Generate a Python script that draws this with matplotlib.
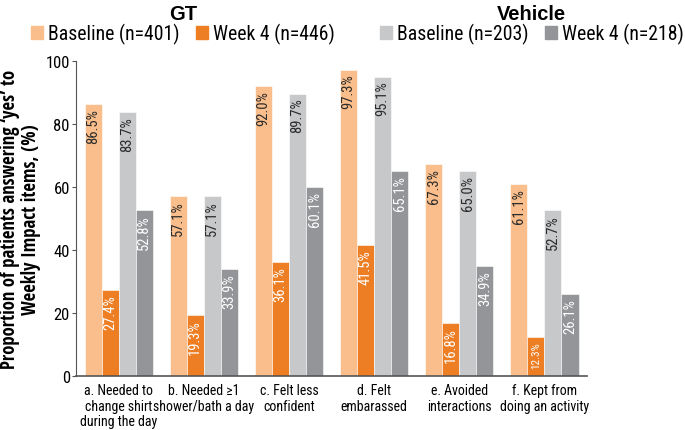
import matplotlib
matplotlib.use("Agg")
import matplotlib.pyplot as plt
import numpy as np
from matplotlib.patches import Patch

COND = ['Roboto Condensed', 'Liberation Sans']

categories = ["a. Needed to\nchange shirt\nduring the day", "b. Needed ≥1\nshower/bath a day",
              "c. Felt less\nconfident", "d. Felt\nembarassed", "e. Avoided\ninteractions",
              "f. Kept from\ndoing an activity"]
gt_baseline = [86.5, 57.1, 92.0, 97.3, 67.3, 61.1]
gt_week4 = [27.4, 19.3, 36.1, 41.5, 16.8, 12.3]
veh_baseline = [83.7, 57.1, 89.7, 95.1, 65.0, 52.7]
veh_week4 = [52.8, 33.9, 60.1, 65.1, 34.9, 26.1]
series_names = ["Baseline (n=401)", "Week 4 (n=446)", "Baseline (n=203)", "Week 4 (n=218)"]
colors = ["#F9BE8B", "#EE7E23", "#C7C8CA", "#939598"]
text_colors = ["#2a2a2a", "white", "#2a2a2a", "white"]

fig = plt.figure(figsize=(6.85, 4.31), dpi=100)
ax = fig.add_axes([0.111, 0.125, 0.746, 0.731])

x = np.arange(len(categories))
w = 0.2
series = [gt_baseline, gt_week4, veh_baseline, veh_week4]
for i, vals in enumerate(series):
    pos = x + (i - 1.5) * w
    ax.bar(pos, vals, width=w, color=colors[i], edgecolor='white', linewidth=0.4)
    for p, v in zip(pos, vals):
        fs = 8 if v < 15 else 10.5
        ax.text(p, v - 1.3, f"{v:.1f}%", rotation=90, ha='center', va='top',
                color=text_colors[i], fontsize=fs, family=COND)

ax.set_xlim(-0.5, 5.5)
ax.set_ylim(0, 100)
ax.set_yticks([0, 20, 40, 60, 80, 100])
ax.set_xticks(x)
ax.set_xticklabels(categories, fontsize=10, family=COND, linespacing=1.15, ha='center',
                   multialignment='center')
ax.tick_params(axis='x', length=0, pad=5)
ax.tick_params(axis='y', labelsize=12, length=3, color='#555555', pad=1.5)
for lab in ax.get_yticklabels():
    lab.set_family(COND)
for s in ['top', 'right']:
    ax.spines[s].set_visible(False)
ax.spines['left'].set_color('#555555')
ax.spines['bottom'].set_color('#555555')
ax.spines['bottom'].set_linewidth(1.2)

ax.set_ylabel("Proportion of patients answering \u2018yes\u2019 to\nWeekly Impact items, (%)",
              fontsize=13.5, fontweight='bold', family=['Open Sans Condensed', 'Roboto Condensed'],
              labelpad=3, linespacing=1.1)

h1 = [Patch(color=colors[0]), Patch(color=colors[1])]
h2 = [Patch(color=colors[2]), Patch(color=colors[3])]
kw = dict(ncol=2, frameon=False, handlelength=0.6, handleheight=0.6,
          handletextpad=0.25, columnspacing=0.85, prop={'family': COND, 'size': 14.2},
          title_fontproperties={'family': 'Liberation Sans', 'weight': 'bold', 'size': 14.5})
leg1 = fig.legend(h1, series_names[:2], title="GT", loc='upper center',
                  bbox_to_anchor=(0.267, 1.03), **kw)
leg2 = fig.legend(h2, series_names[2:], title="Vehicle", loc='upper center',
                  bbox_to_anchor=(0.776, 1.03), **kw)
for lg in (leg1, leg2):
    lg._legend_box.sep = 0

fig.savefig("out.png", dpi=100)
